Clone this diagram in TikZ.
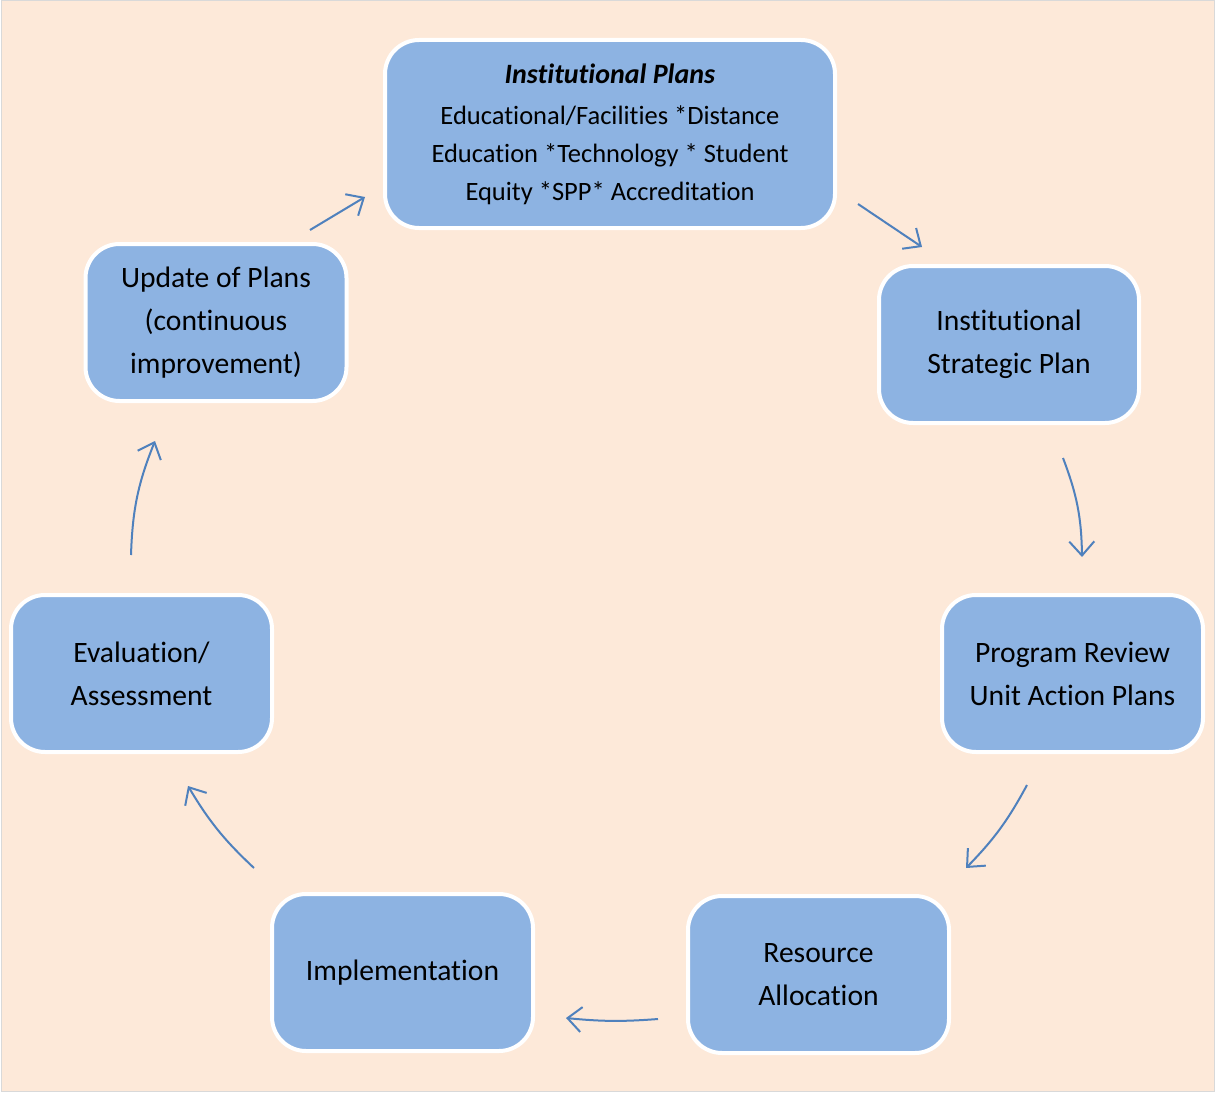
\documentclass[tikz,border=0pt]{standalone}
\usepackage{fontspec}
\setmainfont{Carlito}[Ligatures=NoCommon]
\usetikzlibrary{arrows.meta}
\definecolor{peach}{HTML}{FDE9D9}
\definecolor{boxblue}{HTML}{8DB3E2}
\definecolor{arrowblue}{HTML}{4F81BD}
\tikzset{
  stagebox/.style={rectangle, rounded corners=34pt, fill=boxblue, draw=white, line width=4pt,
    minimum width=261pt, minimum height=157pt, align=center, inner sep=0pt,
    font=\fontsize{29.6}{43}\selectfont},
  flow/.style={draw=arrowblue, line width=2pt, -{Straight Barb[length=14pt,width=25pt,line width=2pt]}}
}
\begin{document}
\begin{tikzpicture}[x=1pt,y=-1pt]
\path[fill=white] (0,0) rectangle (1215,1094);
\path[fill=peach, draw=black!15, line width=1pt] (1,1) rectangle (1214,1091);
\useasboundingbox (0,0) rectangle (1215,1094);

\node[stagebox, minimum width=450pt, minimum height=188pt, font=\fontsize{26.5}{38}\selectfont] (top) at (610,134)
  {{\fontsize{28}{38}\selectfont\textbf{\textit{Institutional Plans}}}\\[3pt]
   Educational/Facilities *Distance\\
   Education *Technology * Student\\
   Equity *SPP* Accreditation};
\node[stagebox, minimum width=260pt] (isp) at (1009,344.5) {Institutional\\Strategic Plan};
\node[stagebox] (pr) at (1072.5,673.5) {Program Review\\Unit Action Plans};
\node[stagebox] (ra) at (818.5,974.5) {Resource\\Allocation};
\node[stagebox] (impl) at (402.5,972.5) {Implementation};
\node[stagebox] (eval) at (141.5,673.5) {Evaluation/\\Assessment};
\node[stagebox] (upd) at (216,322.5) {Update of Plans\\(continuous\\improvement)};

\coordinate (a1s) at (310,230); \coordinate (a1e) at (365,197);
\coordinate (a2s) at (858,204); \coordinate (a2e) at (922,247);
\coordinate (a3s) at (1063,458); \coordinate (a3e) at (1082,557);
\coordinate (a4s) at (1027,785); \coordinate (a4e) at (966,868);
\coordinate (a5s) at (658,1019); \coordinate (a5e) at (566,1018);
\coordinate (a6s) at (254,868); \coordinate (a6e) at (188,786);
\coordinate (a7s) at (131,555); \coordinate (a7e) at (155,441);

\draw[flow] (a1s) -- (a1e);
\draw[flow] (a2s) -- (a2e);
\draw[flow] (a3s) to[bend left=10] (a3e);
\draw[flow] (a4s) to[bend left=8] (a4e);
\draw[flow] (a5s) to[bend left=5] (a5e);
\draw[flow] (a6s) to[bend left=8] (a6e);
\draw[flow] (a7s) to[bend left=10] (a7e);
\end{tikzpicture}
\end{document}
